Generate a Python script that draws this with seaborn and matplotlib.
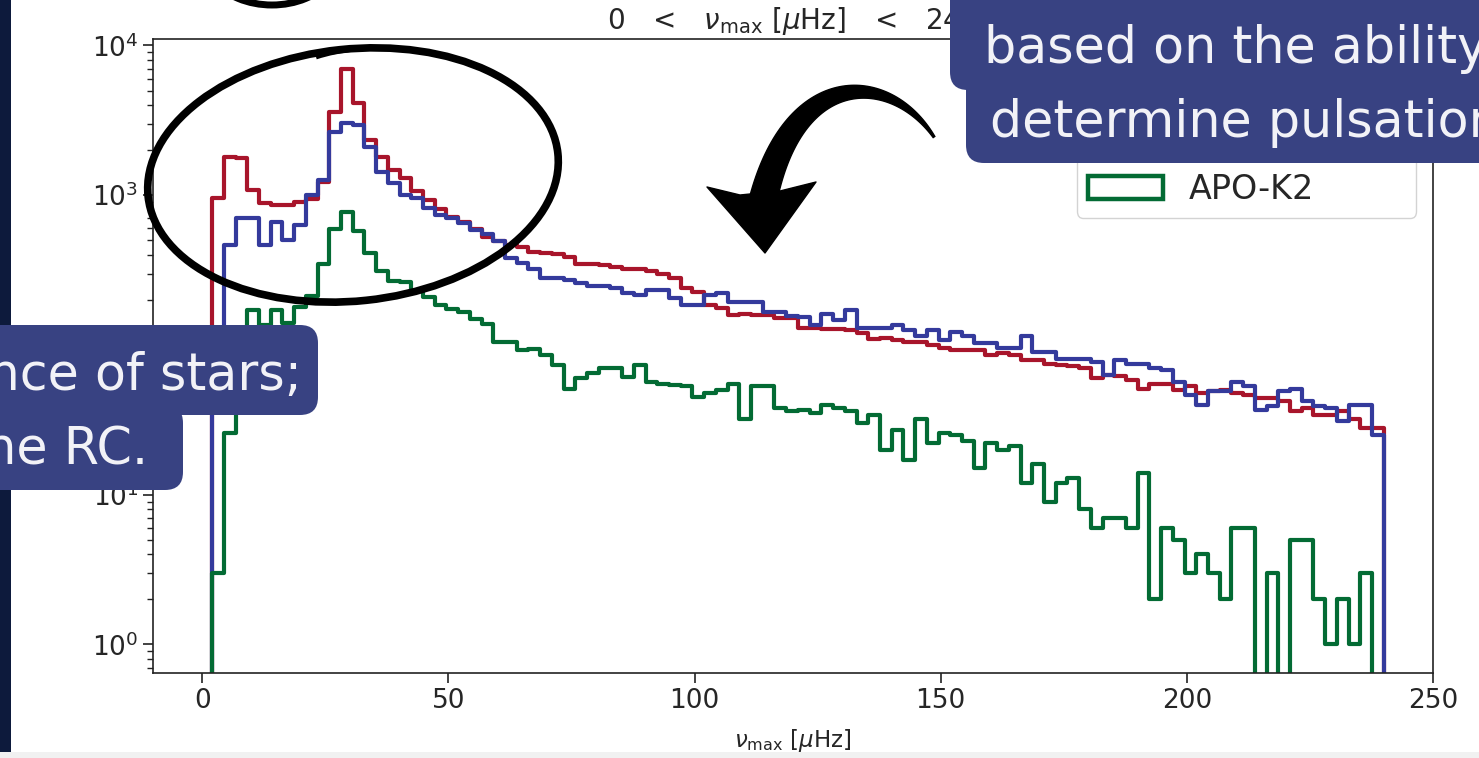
import numpy as np
import pandas as pd
import matplotlib
matplotlib.use("Agg")
import matplotlib.pyplot as plt
import seaborn as sns
from matplotlib.patches import Ellipse, FancyBboxPatch, Rectangle, Polygon, Arc, PathPatch, Patch
from matplotlib.path import Path
from matplotlib.transforms import IdentityTransform

# ---------------- data ----------------
nu_lo, nu_hi, n_bins = 2.0, 240.0, 100

red_counts = [955, 1800, 1760, 1080, 890, 860, 860, 905, 950, 1230,
              3600, 7000, 4100, 2350, 1810, 1480, 1300, 1060, 930, 810,
              720, 660, 595, 530, 495, 464, 453, 418, 410, 403,
              385, 345, 345, 340, 332, 324, 324, 311, 300, 281,
              240, 225, 185, 176, 159, 162, 159, 159, 151, 151,
              130, 130, 127, 127, 125, 120, 109, 111, 108, 105,
              105, 100, 95, 93, 93, 93, 86, 88, 86, 79,
              79, 75, 74, 72, 70, 60, 63, 62, 58, 51,
              55, 55, 50, 53, 48, 49, 50, 48, 46, 44,
              44, 42, 36, 38, 34, 34, 36, 32, 28, 28]

blue_counts = [50, 466, 700, 700, 466, 666, 502, 630, 1000, 1264,
               2655, 3020, 2940, 2110, 1435, 1200, 1000, 955, 820, 740,
               700, 650, 590, 550, 494, 381, 353, 324, 279, 279,
               272, 259, 246, 246, 240, 222, 217, 233, 233, 206,
               185, 185, 217, 222, 195, 195, 195, 167, 167, 156,
               153, 136, 160, 147, 171, 130, 130, 129, 137, 126,
               114, 126, 108, 123, 114, 103, 103, 95, 95, 115,
               90, 90, 81, 81, 81, 77, 63, 79, 75, 75,
               70, 68, 57, 46, 40, 49, 49, 57, 53, 37,
               39, 49, 51, 42, 39, 38, 31, 40, 40, 25]

green_counts = [3, 26, 110, 171, 135, 171, 141, 178, 213, 345,
                595, 770, 580, 409, 310, 266, 263, 230, 210, 185,
                175, 167, 148, 139, 105, 105, 92, 94, 86, 74,
                51, 60, 65, 70, 70, 61, 74, 57, 55, 54,
                53, 45, 48, 50, 55, 32, 53, 53, 38, 36,
                37, 35, 40, 38, 36, 30, 34, 20, 27, 17,
                32, 22, 26, 25, 23, 15, 22, 20, 21, 12,
                16, 9, 12, 13, 8, 6, 7, 7, 6, 14,
                2, 6, 5, 3, 4, 3, 2, 6, 6, 0,
                3, 0, 5, 5, 2, 1, 2, 1, 3, 0]

series_labels = ["K2 GAP (Full)", "K2 GAP", "APO-K2"]
series_colors = ["#a8152b", "#343a9c", "#036b34"]
x_ticks = [0, 50, 100, 150, 200, 250]

title_text = r"$0\ \ \,<\ \ \,\nu_{\rm max}\ [\mu{\rm Hz}]\ \ \,<\ \ \,240$"
xlabel_text = r"$\nu_{\rm max}$ [$\mu$Hz]"
note_top = ["based on the ability to", "determine pulsations"]
note_left = ["abundance of stars;", "in the RC."]

# ---------------- figure ----------------
W, H = 1479, 758
sns.set_theme(style="ticks")
plt.rcParams["font.family"] = ["DejaVu Sans"]
plt.rcParams["mathtext.fontset"] = "dejavusans"

fig = plt.figure(figsize=(W / 100, H / 100), dpi=100)
fig.patch.set_facecolor("white")
ax = fig.add_axes([153 / W, 1 - 673 / H, (1433 - 153) / W, (673 - 39) / H])

edges = np.linspace(nu_lo, nu_hi, n_bins + 1)
centers = 0.5 * (edges[:-1] + edges[1:])

for counts, col, lab in zip([red_counts, blue_counts, green_counts], series_colors, series_labels):
    df = pd.DataFrame({"nu_max": centers, "n": np.asarray(counts, dtype=float)})
    sns.histplot(data=df, x="nu_max", weights="n", bins=n_bins, binrange=(nu_lo, nu_hi),
                 element="step", fill=False, color=col, linewidth=3.0, ax=ax, label=lab)
    # close the step outline down to the axis at both ends (as plt.hist step does)
    ax.vlines([edges[0], edges[-1]], 1e-3, [counts[0], counts[-1]], color=col, linewidth=3.0)

ax.set_yscale("log")
ax.set_xlim(-10, 250)
ax.set_ylim(0.645, 1.105e4)
ax.set_xticks(x_ticks)
ax.set_ylabel("")
ax.set_xlabel(xlabel_text, fontsize=16.5, labelpad=10)
ax.set_title(title_text, fontsize=20, pad=7)
ax.tick_params(axis="both", which="major", labelsize=19, length=7, width=1.2, color="#222222")
ax.tick_params(axis="y", which="minor", length=4, width=1.0, color="#222222")
for s in ax.spines.values():
    s.set_visible(True)
    s.set_linewidth(1.2)
    s.set_color("#222222")

handles = [Patch(facecolor="none", edgecolor=c, linewidth=3.2) for c in series_colors]
ax.legend(handles, series_labels, loc="upper right", fontsize=24, frameon=True,
          fancybox=True, framealpha=0.85, edgecolor="#cccccc",
          handlelength=2.25, handleheight=0.7, handletextpad=0.75,
          borderpad=0.35, labelspacing=0.6, borderaxespad=0.5)

# ---------------- slide overlays (pixel coordinates, y downward) ----------------
T = IdentityTransform()
def px(x, y):
    return (x, H - y)

navy = "#384282"
fig.add_artist(Rectangle(px(0, 752), 11, 752, transform=T, fc="#0d1a3c", ec="none", zorder=5))
fig.add_artist(Rectangle(px(0, 758), W, 6, transform=T, fc="#f1f1f1", ec="none", zorder=5))

# hand-drawn loop around the peaks
fig.add_artist(Ellipse(px(353, 175), 412, 252, angle=6, transform=T, fill=False,
                       ec="black", lw=5.5, zorder=6))
loop_end = Path([px(316, 57), px(352, 45), px(405, 49)], [Path.MOVETO, Path.CURVE3, Path.CURVE3])
fig.add_artist(PathPatch(loop_end, transform=T, fill=False, ec="black", lw=3.5, zorder=6))
# fragment of another hand-drawn stroke at the top edge
fig.add_artist(Arc(px(272, -40), 130, 90, transform=T, theta1=200, theta2=340,
                   ec="black", lw=5, zorder=6))

# hand-drawn curved arrow: tapered shaft along a cubic Bezier + barbed head
ctrl = np.array([[934, 137], [890, 70], [792, 66], [762, 205]], dtype=float)
t = np.linspace(0, 1, 80)[:, None]
curve = ((1 - t) ** 3) * ctrl[0] + 3 * ((1 - t) ** 2) * t * ctrl[1] + 3 * (1 - t) * t ** 2 * ctrl[2] + t ** 3 * ctrl[3]
tang = np.gradient(curve, axis=0)
tang /= np.linalg.norm(tang, axis=1, keepdims=True)
norm = np.column_stack([-tang[:, 1], tang[:, 0]])
half = (1.0 + 13.0 * t[:, 0])[:, None]
outline = np.vstack([curve + norm * half, (curve - norm * half)[::-1]])
fig.add_artist(Polygon([px(x, y) for x, y in outline], closed=True, transform=T,
                       fc="black", ec="black", lw=1, zorder=6))
head = [(707, 187), (740, 195), (780, 191), (816, 182), (765, 253)]
fig.add_artist(Polygon([px(x, y) for x, y in head], closed=True, transform=T,
                       fc="black", ec="black", lw=1, joinstyle="round", zorder=6))

# annotation boxes
for (x0, y0, x1, y1) in [(950, -30, 1530, 90), (966, 70, 1530, 163)]:
    fig.add_artist(FancyBboxPatch(px(x0, y1), x1 - x0, y1 - y0, transform=T,
                                  boxstyle="round,pad=0,rounding_size=18",
                                  fc=navy, ec="none", zorder=7))
for (x0, y0, x1, y1) in [(-40, 325, 318, 415), (-40, 405, 183, 490)]:
    fig.add_artist(FancyBboxPatch(px(x0, y1), x1 - x0, y1 - y0, transform=T,
                                  boxstyle="round,pad=0,rounding_size=18",
                                  fc=navy, ec="none", zorder=7))

txt_kw = dict(transform=T, color="#f2f2f7", fontsize=36.5, family=["DejaVu Sans"],
              va="baseline", zorder=8)
fig.text(*px(984, 63), note_top[0], ha="left", **txt_kw)
fig.text(*px(990, 137), note_top[1], ha="left", **txt_kw)
fig.text(*px(302, 390), note_left[0], ha="right", **txt_kw)
fig.text(*px(148, 463), note_left[1], ha="right", **txt_kw)

fig.savefig("out.png", dpi=100)
